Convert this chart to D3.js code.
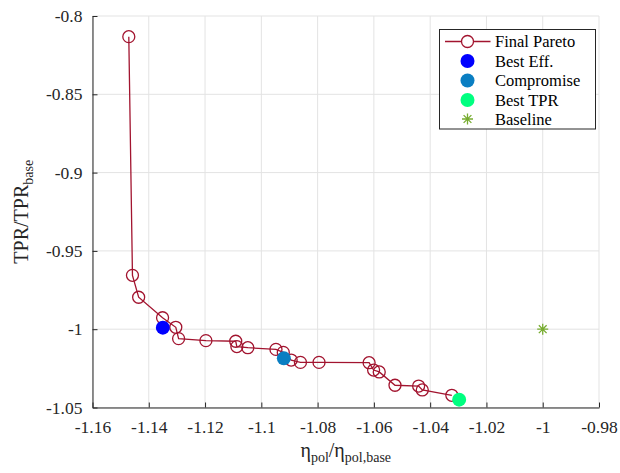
<!DOCTYPE html>
<html>
<head>
<meta charset="utf-8">
<script src="https://cdn.jsdelivr.net/npm/d3@7"></script>
<style>
  html, body { margin: 0; padding: 0; background: #fff; }
  svg { display: block; }
</style>
</head>
<body>
<svg id="chart" width="620" height="473"></svg>
<script>
// Pareto front: normalised efficiency (x) vs normalised TPR (y)
const paretoEta = [-1.1471, -1.1458, -1.1436, -1.1351, -1.1304, -1.1294, -1.1197, -1.1091, -1.1087, -1.1048,
                   -1.0948, -1.0922, -1.0894, -1.0861, -1.0795, -1.0617, -1.0601, -1.0581, -1.0525, -1.0441,
                   -1.0428, -1.0323];
const paretoTpr = [-0.8132, -0.9656, -0.9796, -0.9927, -0.9988, -1.0060, -1.0073, -1.0077, -1.0111, -1.0118,
                   -1.0129, -1.0148, -1.0197, -1.0212, -1.0212, -1.0214, -1.0261, -1.0273, -1.0358, -1.0363,
                   -1.0388, -1.0422];

// Highlighted designs
const highlightNames = ["Best Eff.", "Compromise", "Best TPR"];
const highlightEta = [-1.1350, -1.0920, -1.0297];
const highlightTpr = [-0.9990, -1.0186, -1.0450];
const highlightColors = ["#0000ff", "#0a7ec2", "#00ff80"];

const baselineEta = -1;
const baselineTpr = -1;

const xTicks = [-1.16, -1.14, -1.12, -1.1, -1.08, -1.06, -1.04, -1.02, -1, -0.98];
const yTicks = [-1.05, -1, -0.95, -0.9, -0.85, -0.8];

const paretoColor = "#a2142f";
const baselineColor = "#77ac30";
const axisColor = "#262626";
const serif = "'Liberation Serif', 'DejaVu Serif', serif";

const svg = d3.select("#chart");
const plotLeft = 92.5, plotRight = 599, plotTop = 16, plotBottom = 407.5;

const x = d3.scaleLinear().domain([-1.16, -0.98]).range([plotLeft, plotRight]);
const y = d3.scaleLinear().domain([-1.05, -0.8]).range([plotBottom, plotTop]);

// grid
const grid = svg.append("g").attr("stroke", "#e3e3e3").attr("stroke-width", 1);
xTicks.forEach(t => grid.append("line").attr("x1", x(t)).attr("x2", x(t)).attr("y1", plotTop).attr("y2", plotBottom));
yTicks.forEach(t => grid.append("line").attr("y1", y(t)).attr("y2", y(t)).attr("x1", plotLeft).attr("x2", plotRight));

// axes (inward ticks)
const fmt = d => String(d);
const xAxis = svg.append("g").attr("transform", `translate(0,${plotBottom})`)
  .call(d3.axisBottom(x).tickValues(xTicks).tickFormat(fmt).tickSizeInner(-5).tickSizeOuter(0).tickPadding(13));
const yAxis = svg.append("g").attr("transform", `translate(${plotLeft},0)`)
  .call(d3.axisLeft(y).tickValues(yTicks).tickFormat(fmt).tickSizeInner(-5).tickSizeOuter(0).tickPadding(10));
[xAxis, yAxis].forEach(a => {
  a.select(".domain").attr("stroke", axisColor).attr("stroke-width", 1);
  a.selectAll(".tick line").attr("stroke", axisColor);
  a.selectAll(".tick text").attr("fill", axisColor)
    .style("font-family", serif).style("font-size", "17.5px");
});
xAxis.selectAll(".tick text").attr("dy", "0.71em");

// Pareto line and markers
const pts = paretoEta.map((e, i) => [e, paretoTpr[i]]);
svg.append("path")
  .attr("d", d3.line().x(d => x(d[0])).y(d => y(d[1]))(pts))
  .attr("fill", "none").attr("stroke", paretoColor).attr("stroke-width", 1.3);
svg.append("g").selectAll("circle").data(pts).join("circle")
  .attr("cx", d => x(d[0])).attr("cy", d => y(d[1])).attr("r", 6)
  .attr("fill", "none").attr("stroke", paretoColor).attr("stroke-width", 1.3);

// highlighted points
highlightNames.forEach((n, i) => {
  svg.append("circle").attr("cx", x(highlightEta[i])).attr("cy", y(highlightTpr[i])).attr("r", 7)
    .attr("fill", highlightColors[i]);
});

// baseline star marker
function star(g, cx, cy, s) {
  const path = d3.path();
  for (let k = 0; k < 4; k++) {
    const a = k * Math.PI / 4;
    path.moveTo(cx - s * Math.cos(a), cy - s * Math.sin(a));
    path.lineTo(cx + s * Math.cos(a), cy + s * Math.sin(a));
  }
  g.append("path").attr("d", path.toString()).attr("stroke", baselineColor).attr("stroke-width", 1.3).attr("fill", "none");
}
star(svg, x(baselineEta), y(baselineTpr), 5.5);

// axis labels
const xl = svg.append("text").attr("x", (plotLeft + plotRight) / 2).attr("y", 457)
  .attr("text-anchor", "middle").style("font-family", serif).style("font-size", "20px").attr("fill", axisColor);
xl.append("tspan").text("η");
xl.append("tspan").style("font-size", "14px").attr("dy", 5).text("pol");
xl.append("tspan").attr("dy", -5).text("/η");
xl.append("tspan").style("font-size", "14px").attr("dy", 5).text("pol,base");

const yl = svg.append("text").attr("transform", `translate(28,${(plotTop + plotBottom) / 2}) rotate(-90)`)
  .attr("text-anchor", "middle").style("font-family", serif).style("font-size", "20px").attr("fill", axisColor);
yl.append("tspan").text("TPR/TPR");
yl.append("tspan").style("font-size", "14px").attr("dy", 5).text("base");

// legend
const lg = svg.append("g");
lg.append("rect").attr("x", 439.5).attr("y", 29.5).attr("width", 156).attr("height", 99.5)
  .attr("fill", "#fff").attr("stroke", axisColor).attr("stroke-width", 1);
const rows = [41.5, 61, 80.5, 100, 119];
const labels = ["Final Pareto"].concat(highlightNames, ["Baseline"]);
const mx = 467.5;
lg.append("line").attr("x1", 445).attr("x2", 490.5).attr("y1", rows[0]).attr("y2", rows[0])
  .attr("stroke", paretoColor).attr("stroke-width", 1.3);
lg.append("circle").attr("cx", mx).attr("cy", rows[0]).attr("r", 6).attr("fill", "#fff")
  .attr("stroke", paretoColor).attr("stroke-width", 1.3);
highlightColors.forEach((c, i) => lg.append("circle").attr("cx", mx).attr("cy", rows[i + 1]).attr("r", 7).attr("fill", c));
star(lg, mx, rows[4], 5.5);
labels.forEach((t, i) => lg.append("text").attr("x", 495).attr("y", rows[i]).attr("dy", "0.35em")
  .style("font-family", serif).style("font-size", "16.5px").attr("fill", "#000").text(t));
</script>
</body>
</html>
